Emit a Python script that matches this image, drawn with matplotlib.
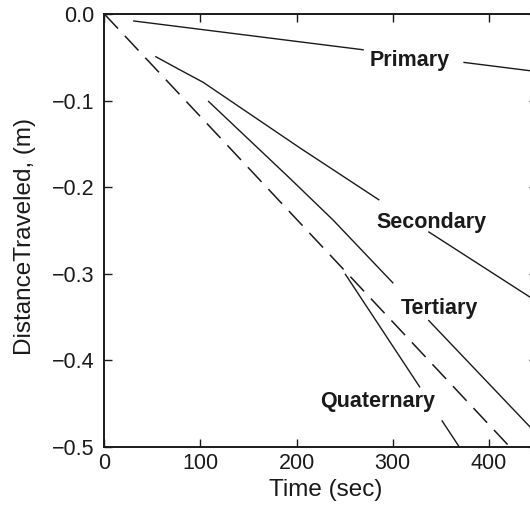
import matplotlib.pyplot as plt
import numpy as np

plt.rcParams['font.family'] = ['Liberation Sans', 'DejaVu Sans']
plt.rcParams['lines.scale_dashes'] = False

# curve knots (time in sec, distance in m)
primary_t = [30, 450]
primary_d = [-0.008, -0.0665]
secondary_t = [53, 79, 103, 204, 286, 450]
secondary_d = [-0.049, -0.0647, -0.079, -0.155, -0.2148, -0.332]
tertiary_t = [108, 193, 238, 450]
tertiary_d = [-0.1005, -0.1897, -0.2379, -0.485]
quaternary_t = [250.5, 369.4]
quaternary_d = [-0.300, -0.500]
dashed_t = [0, 422]
dashed_d = [0.0, -0.5]

labels = ['Primary', 'Secondary', 'Tertiary', 'Quaternary']
x_ticks = [0, 100, 200, 300, 400]
y_ticks = [0.0, -0.1, -0.2, -0.3, -0.4, -0.5]

# where each curve is broken to make room for its label
label_gaps = {'Primary': (270, 373.6), 'Secondary': (286.2, 337.1),
              'Tertiary': (300.7, 337.1), 'Quaternary': (328.5, 351.1)}
label_pos = {'Primary': (317.6, -0.060), 'Secondary': (340.7, -0.2468),
             'Tertiary': (348.5, -0.3464), 'Quaternary': (284.3, -0.4542)}

ink = '#1a1a1a'


def draw_broken(ax, t, d, gap):
    t = np.asarray(t, float)
    d = np.asarray(d, float)
    g0, g1 = gap
    left = np.concatenate([t[t < g0], [g0]])
    right = np.concatenate([[g1], t[t > g1]])
    for seg in (left, right):
        ax.plot(seg, np.interp(seg, t, d), color=ink, lw=1.0,
                solid_capstyle='butt')


fig = plt.figure(figsize=(5.3, 5.08), dpi=100)
ax = fig.add_axes([0.1968, 0.1201, 0.816, 0.8524])

curves = {'Primary': (primary_t, primary_d),
          'Secondary': (secondary_t, secondary_d),
          'Tertiary': (tertiary_t, tertiary_d),
          'Quaternary': (quaternary_t, quaternary_d)}
for name in labels:
    t, d = curves[name]
    draw_broken(ax, t, d, label_gaps[name])
    x, y = label_pos[name]
    ax.text(x, y, name, ha='center', va='baseline', fontsize=15.5,
            fontweight='bold', color=ink)

ax.plot(dashed_t, dashed_d, color=ink, lw=1.1, dashes=(14.4, 7.2))

ax.set_xlim(0, 450)
ax.set_ylim(-0.5, 0.0)
ax.set_xticks(x_ticks)
ax.set_yticks(y_ticks)
ax.set_yticklabels([f'{v:.1f}'.replace('-', '\u2212') for v in y_ticks])

for s in ax.spines.values():
    s.set_linewidth(1.4)
    s.set_color(ink)
ax.tick_params(direction='in', top=True, right=True, length=5.8, width=1.0,
               color=ink, labelcolor=ink, labelsize=15.5)
ax.tick_params(axis='x', pad=4.5)
ax.tick_params(axis='y', pad=7)

ax.set_xlabel('Time (sec)', fontsize=17.5, color=ink)
ax.set_ylabel('DistanceTraveled, (m)', fontsize=17.5, color=ink)
ax.xaxis.set_label_coords(0.5126, -0.073)
ax.yaxis.set_label_coords(-0.158, 0.486)

fig.savefig('out.png', dpi=100)
